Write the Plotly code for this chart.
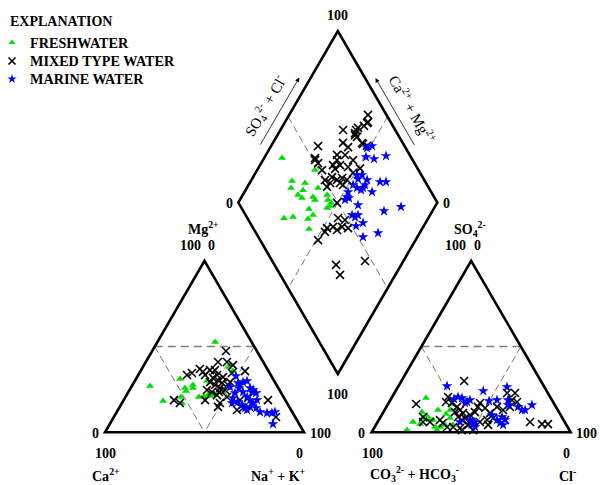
import numpy as np
import plotly.graph_objects as go

# ---------------- DATA (percent of milliequivalents) ----------------
# Cation triangle: Mg2+ and Na+ + K+ (Ca2+ is the remainder)
fresh_cat_mg  = [52.7, 27.0, 18.3, 31.1, 25.8, 24.1, 27.6, 25.8, 20.6, 20.6, 17.1, 29.9, 20.6, 21.7, 21.2, 23.5, 38.1, 35.7, 22.9]
fresh_cat_nak = [29.0, 9.1, 20.0, 22.2, 27.3, 28.7, 30.4, 31.3, 36.9, 27.9, 30.1, 36.3, 39.4, 40.9, 43.2, 47.5, 42.8, 46.4, 41.3]

mixed_cat_mg  = [47.4, 41.0, 41.0, 39.2, 36.3, 36.3, 35.7, 35.2, 33.4, 34.6, 33.4, 33.4, 32.2, 34.6, 30.5, 27.6, 24.7, 25.8, 24.7, 23.5,
                 21.7, 18.8, 17.1, 14.8, 18.8, 17.1, 17.7, 13.0, 18.8, 20.0, 18.8, 8.9, 29.3, 29.3, 20.6, 14.2, 28.8, 31.7, 27.6, 23.5, 36.9]
mixed_cat_nak = [37.1, 36.3, 40.8, 44.7, 37.1, 34.6, 52.5, 31.6, 33.6, 26.4, 24.5, 39.6, 43.2, 46.5, 41.5, 41.5, 38.9, 44.9, 48.0, 42.0,
                 45.4, 40.9, 49.2, 49.4, 25.3, 29.1, 56.5, 59.8, 58.4, 61.9, 72.5, 81.5, 48.2, 38.2, 51.0, 62.2, 44.4, 38.4, 48.0, 45.5, 29.2]

marine_cat_mg  = [28.7, 27.5, 29.3, 29.9, 25.8, 23.5, 25.8, 23.5, 24.7, 22.9, 20.6, 22.9, 20.0, 17.1, 17.7, 16.0, 14.2, 14.8, 17.1, 14.2,
                  11.8, 11.2, 11.2, 11.8, 4.8, 13.0, 32.8, 26.4, 18.8, 18.8]
marine_cat_nak = [52.5, 54.1, 54.7, 56.4, 54.4, 57.6, 60.0, 62.1, 62.1, 64.5, 61.1, 53.9, 54.3, 55.3, 58.0, 60.8, 63.3, 65.5, 65.8, 68.8,
                  72.0, 75.8, 78.3, 79.5, 82.0, 64.9, 49.4, 49.6, 63.5, 67.0]

# Anion triangle: SO4 2- and Cl- (CO3 2- + HCO3- is the remainder)
fresh_an_so4 = [1.3, 6.0, 11.8, 20.0, 8.3, 9.5, 7.2, 7.2, 1.3, 13.0, 3.1, 4.3, 13.0, 8.3, 16.5, 4.3, 3.1, 4.8, 10.7]
fresh_an_cl  = [17.1, 17.8, 19.4, 17.3, 21.7, 23.1, 25.7, 27.2, 32.2, 26.8, 32.8, 34.7, 32.9, 35.3, 32.1, 38.8, 30.3, 21.9, 32.0]

mixed_an_so4 = [29.9, 16.5, 17.7, 20.6, 17.1, 14.8, 13.0, 11.2, 8.9, 8.3, 10.1, 11.8, 14.8, 17.1, 14.2, 11.2, 8.3, 7.2, 6.0, 4.3,
                1.3, 1.3, 13.0, 22.9, 18.8, 22.9, 17.7, 14.8, 7.2, 6.0, 4.8, 4.8, 8.9, 6.0, 6.0, 7.2, 5.4, 3.1, 3.1, 14.8,
                4.3, 2.5, 11.8, 7.2, 5.4]
mixed_an_cl  = [31.5, 14.1, 28.5, 28.1, 31.8, 35.5, 37.9, 40.3, 39.0, 42.8, 44.4, 46.0, 46.0, 45.9, 49.9, 53.9, 56.9, 54.4, 51.4, 46.3,
                44.7, 50.3, 59.5, 56.6, 61.1, 60.6, 64.2, 62.1, 63.4, 76.6, 83.2, 86.2, 21.4, 22.8, 26.3, 30.7, 33.1, 36.4, 39.4, 55.6,
                56.4, 43.2, 36.0, 41.8, 46.7]

marine_an_so4 = [27.0, 24.1, 26.4, 19.4, 20.6, 20.0, 17.7, 18.2, 18.8, 18.8, 14.8, 13.0, 13.0, 15.9, 7.2, 6.0, 4.3, 10.1, 7.2, 5.4,
                 4.3, 7.2, 8.9, 17.1, 3.1, 6.0, 15.9, 18.8]
marine_an_cl  = [24.4, 44.0, 54.8, 31.7, 33.1, 35.4, 39.1, 49.9, 53.6, 59.1, 66.1, 69.0, 70.6, 72.6, 45.8, 48.9, 48.8, 55.4, 59.4, 61.8,
                 63.9, 63.4, 61.1, 38.4, 50.4, 41.4, 60.6, 40.0]

# Diamond: SO4 2- + Cl- and Ca2+ + Mg2+
fresh_dia_so4cl = [34.9, 48.0, 33.3, 30.7, 39.2, 44.3, 36.1, 32.2, 33.3, 39.1, 39.3, 46.8, 33.6, 33.9, 30.2, 18.4, 23.3, 27.8, 43.0, 45.1, 46.5, 45.8]
fresh_dia_camg  = [91.0, 71.0, 79.3, 77.7, 72.2, 64.2, 71.1, 72.2, 69.3, 64.1, 62.2, 57.6, 62.6, 58.8, 60.2, 72.5, 68.3, 56.7, 53.8, 52.9, 53.3, 55.7]

mixed_dia_so4cl = [90.7, 88.6, 85.5, 81.9, 78.9, 78.8, 79.7, 81.2, 71.3, 70.0, 56.5, 63.5, 67.5, 51.5, 73.8, 78.3, 80.3, 87.9, 51.0, 51.6,
                   51.5, 62.0, 70.0, 79.5, 54.5, 56.2, 59.3, 61.2, 56.8, 51.8, 65.5, 58.4, 66.3, 49.1, 49.5, 45.6, 48.5, 45.0, 40.5, 37.1,
                   35.0, 29.1, 47.7, 41.6, 30.9, 30.0, 46.6, 58.5, 62.0, 50.1, 57.7, 71.1]
mixed_dia_camg  = [60.4, 58.3, 59.2, 61.6, 61.6, 59.5, 54.4, 51.8, 61.0, 64.8, 76.4, 64.3, 60.2, 74.4, 68.5, 61.0, 62.0, 58.5, 73.8, 71.4,
                   67.4, 62.8, 54.7, 55.2, 60.3, 57.0, 55.0, 52.0, 54.6, 59.6, 55.2, 61.2, 51.0, 60.0, 50.3, 45.4, 41.3, 40.8, 45.3, 48.0,
                   47.9, 49.0, 37.4, 42.4, 32.7, 27.8, 19.3, 63.3, 59.8, 63.0, 52.5, 48.8]

marine_dia_so4cl = [80.6, 83.7, 77.4, 80.9, 87.8, 67.7, 70.2, 71.3, 67.0, 77.2, 80.2, 63.9, 65.3, 66.9, 70.3, 58.2, 56.2, 54.4, 57.0, 59.4,
                    53.5, 54.4, 56.5, 56.7, 52.3, 70.7, 80.5, 61.3, 52.6, 68.8, 62.8]
marine_dia_camg  = [51.2, 49.3, 49.1, 44.5, 39.4, 48.4, 45.9, 41.9, 46.7, 34.8, 31.8, 44.6, 42.0, 41.6, 35.9, 47.9, 47.0, 47.2, 45.7, 39.1,
                    39.2, 37.1, 36.2, 31.4, 34.0, 24.3, 17.0, 20.9, 27.3, 41.5, 47.5]

group_names = ["FRESHWATER", "MIXED TYPE WATER", "MARINE WATER"]
legend_title = "EXPLANATION"
tick_100 = "100"
tick_0 = "0"

# ---------------- GEOMETRY ----------------
H = np.sqrt(3) / 2
GAP = 34.0                   # gap between the two triangles (triangle side = 100)
AX0 = 100 + GAP              # left corner of anion triangle
DX = 100 + GAP / 2           # diamond bottom x
DY = (GAP / 2) * np.sqrt(3)  # diamond bottom y

# pixel mapping of the 600x485 page (margins 0)
SX, SY, X0, Y0 = 1.99, 1.98, 105.0, 432.3
W, HGT = 600, 485
XR = [(0 - X0) / SX, (W - X0) / SX]
YR = [(Y0 - HGT) / SY, Y0 / SY]


def to_px(x, y):
    return X0 + SX * x, Y0 - SY * y


def from_px(px, py):
    return (px - X0) / SX, (Y0 - py) / SY


def cation_xy(mg, nak):
    mg = np.asarray(mg, float); nak = np.asarray(nak, float)
    return nak + mg / 2, mg * H


def anion_xy(so4, cl):
    so4 = np.asarray(so4, float); cl = np.asarray(cl, float)
    return AX0 + cl + so4 / 2, so4 * H


def diamond_xy(so4cl, camg):
    b = np.asarray(so4cl, float) / 100; a = np.asarray(camg, float) / 100
    return DX + 50 * (b - a), DY + 100 * H * (a + b)


fig = go.Figure()

# ---------------- FRAMES & GUIDE LINES ----------------
def path(points, close=True):
    s = "M " + " L ".join(f"{x:.4f},{y:.4f}" for x, y in points)
    return s + (" Z" if close else "")

tri_L = [(0, 0), (100, 0), (50, 100 * H)]
tri_R = [(AX0, 0), (AX0 + 100, 0), (AX0 + 50, 100 * H)]
dB = (DX, DY); dL = (DX - 50, DY + 100 * H); dR = (DX + 50, DY + 100 * H); dT = (DX, DY + 200 * H)

shapes = []
for pts in (tri_L, tri_R, [dB, dR, dT, dL]):
    shapes.append(dict(type="path", path=path(pts), line=dict(color="black", width=2.6), layer="above"))

def seg(p, q, width, color, dash):
    shapes.append(dict(type="line", x0=p[0], y0=p[1], x1=q[0], y1=q[1],
                       line=dict(color=color, width=width, dash=dash), layer="below"))

for ox in (0, AX0):
    a = (ox + 25, 50 * H); b = (ox + 75, 50 * H); m = (ox + 50, 0)
    seg(a, b, 1.4, "#7f7f7f", "8px,5px")
    seg(a, m, 0.8, "#555555", "7px,4px")
    seg(b, m, 0.8, "#555555", "7px,4px")

mid = lambda p, q: ((p[0] + q[0]) / 2, (p[1] + q[1]) / 2)
seg(mid(dL, dT), mid(dB, dR), 0.8, "#555555", "7px,4px")
seg(mid(dT, dR), mid(dL, dB), 0.8, "#555555", "7px,4px")

# ---------------- DATA TRACES ----------------
def concat(*xy):
    xs = np.concatenate([p[0] for p in xy]); ys = np.concatenate([p[1] for p in xy])
    return xs, ys

gx, gy = concat(cation_xy(fresh_cat_mg, fresh_cat_nak), anion_xy(fresh_an_so4, fresh_an_cl),
                diamond_xy(fresh_dia_so4cl, fresh_dia_camg))
mx, my = concat(cation_xy(mixed_cat_mg, mixed_cat_nak), anion_xy(mixed_an_so4, mixed_an_cl),
                diamond_xy(mixed_dia_so4cl, mixed_dia_camg))
bx, by = concat(cation_xy(marine_cat_mg, marine_cat_nak), anion_xy(marine_an_so4, marine_an_cl),
                diamond_xy(marine_dia_so4cl, marine_dia_camg))

styles = [
    dict(symbol="triangle-up", size=7, color="#00dd00", line=dict(width=0)),
    dict(symbol="x-thin", size=8, color="black", line=dict(width=1.6, color="black")),
    dict(symbol="star", size=8, color="#0000ff", line=dict(width=0)),
]
for (xs, ys), name, st in zip(((gx, gy), (mx, my), (bx, by)), group_names, styles):
    fig.add_trace(go.Scatter(x=xs, y=ys, mode="markers", name=name, marker=st, showlegend=False,
                             hoverinfo="skip"))

# ---------------- TEXT ----------------
SERIF = "Liberation Serif, Times New Roman, Tinos, serif"
ann = []

def label(text, px, py, size=14, bold=True, angle=0, xanchor="center"):
    x, y = from_px(px, py)
    t = f"<b>{text}</b>" if bold else text
    ann.append(dict(x=x, y=y, xref="x", yref="y", text=t, showarrow=False, textangle=angle,
                    xanchor=xanchor, yanchor="middle",
                    font=dict(family=SERIF, size=size, color="black")))

# legend (drawn manually)
label(legend_title, 8, 21.5, size=14, xanchor="left")
leg_y = [42.5, 61, 79]
for name, st, ly in zip(group_names, styles, leg_y):
    kx, ky = from_px(12, ly)
    st2 = dict(st); st2["size"] = st["size"] - 1
    fig.add_trace(go.Scatter(x=[kx], y=[ky], mode="markers", marker=st2, showlegend=False, hoverinfo="skip"))
    label(name, 28, ly, size=14.2, xanchor="left")

# diamond corners
tx, ty = to_px(*dT); lx, ly = to_px(*dL); rx, ry = to_px(*dR); bpx, bpy = to_px(*dB)
label(tick_100, tx, ty - 15.5)
label(tick_0, lx - 9, ly + 1)
label(tick_0, rx + 9, ry + 0.5)
label(tick_100, bpx, bpy + 20.5)

# triangle apices
aLx, aLy = to_px(*tri_L[2]); aRx, aRy = to_px(*tri_R[2])
label("Mg<sup>2+</sup>", aLx - 1, aLy - 33)
label(tick_100, aLx - 14.5, aLy - 15.5)
label(tick_0, aLx + 7, aLy - 15.5)
label("SO<sub>4</sub><sup>2-</sup>", aRx - 1, aRy - 32)
label(tick_100, aRx - 15.5, aRy - 15.5)
label(tick_0, aRx + 6, aRy - 15.5)

# triangle base corners
for tri in (tri_L, tri_R):
    blx, bly = to_px(*tri[0]); brx, bry = to_px(*tri[1])
    label(tick_0, blx - 10, bly + 1.5)
    label(tick_100, brx + 16, bry + 1.5)
    label(tick_100, blx + 0.5, bly + 21)
    label(tick_0, brx - 4.5, bry + 21)

blx, bly = to_px(*tri_L[0]); brx, bry = to_px(*tri_L[1])
label("Ca<sup>2+</sup>", blx + 1, bly + 43)
label("Na<sup>+</sup> + K<sup>+</sup>", brx - 26, bry + 43)
blx, bly = to_px(*tri_R[0]); brx, bry = to_px(*tri_R[1])
label("CO<sub>3</sub><sup>2-</sup> + HCO<sub>3</sub><sup>-</sup>", blx + 43, bly + 42)
label("Cl<sup>-</sup>", brx - 3, bry + 43)

# diamond side labels and arrows
def along(p, q, f, off, outward):
    px0, py0 = to_px(*p); px1, py1 = to_px(*q)
    dx, dy = px1 - px0, py1 - py0
    nx, ny = outward
    return px0 + f * dx + off * nx, py0 + f * dy + off * ny

n_left = (-H, -0.5)    # outward normal of upper-left edge (pixel space)
n_right = (H, -0.5)    # outward normal of upper-right edge

px_, py_ = along(dL, dT, 0.49, 25, n_left)
label("SO<sub>4</sub><sup>2-</sup> + Cl<sup>-</sup>", px_, py_, size=15, bold=False, angle=-60)
px_, py_ = along(dT, dR, 0.53, 25, n_right)
label("Ca<sup>2+</sup> + Mg<sup>2+</sup>", px_, py_, size=15, bold=False, angle=60)

def arrow(p_head, p_tail):
    hx, hy = from_px(*p_head); tx_, ty_ = from_px(*p_tail)
    ann.append(dict(x=hx, y=hy, ax=tx_, ay=ty_, xref="x", yref="y", axref="x", ayref="y",
                    text="", showarrow=True, arrowhead=2, arrowsize=1.1, arrowwidth=0.8, arrowcolor="black"))

arrow(along(dL, dT, 0.70, 10, n_left), along(dL, dT, 0.30, 10, n_left))
arrow(along(dT, dR, 0.30, 9, n_right), along(dT, dR, 0.70, 9, n_right))

fig.update_layout(
    width=W, height=HGT, autosize=False,
    margin=dict(l=0, r=0, t=0, b=0),
    paper_bgcolor="white", plot_bgcolor="white",
    xaxis=dict(range=XR, visible=False, fixedrange=True),
    yaxis=dict(range=YR, visible=False, fixedrange=True),
    shapes=shapes, annotations=ann,
    showlegend=False,
)

fig.write_html("out.html")
